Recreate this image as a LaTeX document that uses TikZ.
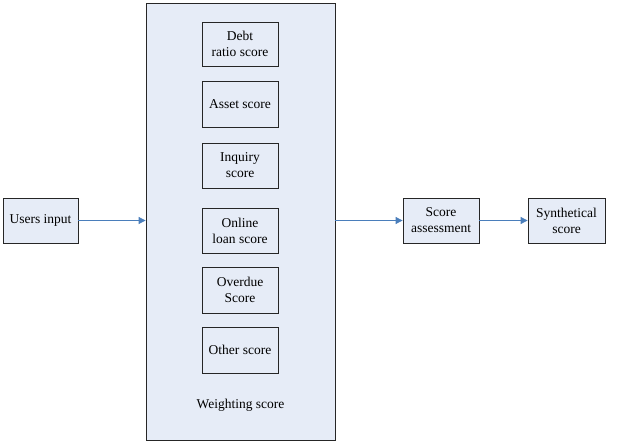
\documentclass[tikz,border=0pt]{standalone}
\usepackage{fontspec}
\setmainfont{Liberation Serif}
\usetikzlibrary{arrows.meta}
\definecolor{boxfill}{HTML}{E6ECF7}
\definecolor{arrowblue}{HTML}{4A7EBB}
\begin{document}
\begin{tikzpicture}[x=1pt,y=-1pt,
  box/.style={draw=black!85,line width=0.8pt,fill=boxfill,align=center,inner sep=0pt,
    font=\rmfamily\fontsize{13.5}{16}\selectfont},
  conn/.style={draw=arrowblue,line width=0.8pt,-{Triangle[length=7pt,width=7pt]}}]
\useasboundingbox (0,0) rectangle (621,444);
\node[box,minimum width=189pt,minimum height=437pt] (big) at (240.5,221.5) {};
\node[box,minimum width=75pt,minimum height=45pt] (users) at (40.5,220.5) {Users input};
\node[box,minimum width=76pt,minimum height=44pt] (debt) at (240,44) {Debt\\ratio score};
\node[box,minimum width=76pt,minimum height=46pt] (asset) at (240,104) {Asset score};
\node[box,minimum width=76pt,minimum height=45pt] (inq) at (240,165.5) {Inquiry\\score};
\node[box,minimum width=76pt,minimum height=45pt] (online) at (240,230.5) {Online\\loan score};
\node[box,minimum width=76pt,minimum height=46pt] (over) at (240,290) {Overdue\\Score};
\node[box,minimum width=76pt,minimum height=46pt] (other) at (240,350) {Other score};
\node[font=\rmfamily\fontsize{13.5}{16}\selectfont] (wlabel) at (240.5,405) {Weighting score};
\node[box,minimum width=76pt,minimum height=45pt] (assess) at (441,220.5) {Score\\assessment};
\node[box,minimum width=77pt,minimum height=45pt] (synth) at (566.5,220.5) {Synthetical\\score};
\draw[conn] (users.east) -- (users.east -| big.west);
\draw[conn] (big.east |- assess.west) -- (assess.west);
\draw[conn] (assess.east) -- (synth.west);
\end{tikzpicture}
\end{document}
